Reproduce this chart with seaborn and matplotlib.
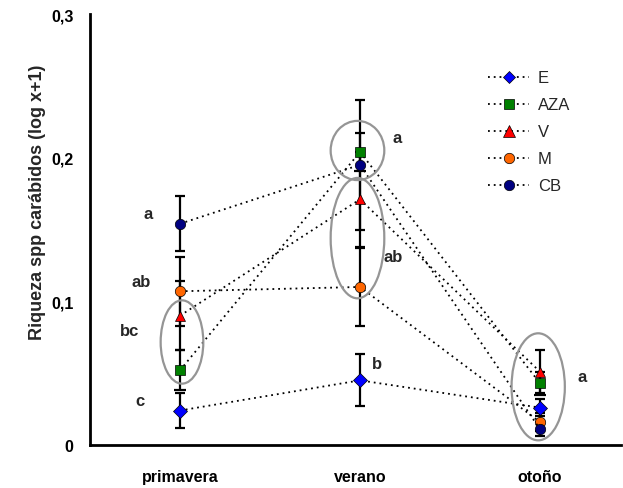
import numpy as np
import pandas as pd
import matplotlib
matplotlib.use("Agg")
import matplotlib.pyplot as plt
from matplotlib.patches import Ellipse
from matplotlib.lines import Line2D
import seaborn as sns

# ---- data ----
seasons = ["primavera", "verano", "otoño"]
series = ["E", "AZA", "V", "M", "CB"]
E_vals = [0.024, 0.045, 0.026]
AZA_vals = [0.052, 0.204, 0.043]
V_vals = [0.090, 0.171, 0.051]
M_vals = [0.107, 0.110, 0.016]
CB_vals = [0.154, 0.195, 0.011]
E_err = [0.012, 0.018, 0.006]
AZA_err = [0.014, 0.013, 0.008]
V_err = [0.024, 0.033, 0.015]
M_err = [0.024, 0.027, 0.006]
CB_err = [0.019, 0.045, 0.005]
yticks = [0, 0.1, 0.2, 0.3]
ytick_labels = ["0", "0,1", "0,2", "0,3"]
ylabel = "Riqueza spp carábidos (log x+1)"
letters_prim = ["a", "ab", "bc", "c"]
letters_ver = ["a", "ab", "b"]
letters_oto = ["a"]

vals = {"E": E_vals, "AZA": AZA_vals, "V": V_vals, "M": M_vals, "CB": CB_vals}
errs = {"E": E_err, "AZA": AZA_err, "V": V_err, "M": M_err, "CB": CB_err}

rows = []
for s in series:
    for i, season in enumerate(seasons):
        rows.append({"serie": s, "x": i, "y": vals[s][i], "err": errs[s][i]})
df = pd.DataFrame(rows)

colors = {"E": "#0000FF", "AZA": "#008000", "V": "#FF0000", "M": "#FF6600", "CB": "#000080"}
markers = {"E": "D", "AZA": "s", "V": "^", "M": "o", "CB": "o"}
msizes = {"E": 6.5, "AZA": 7.5, "V": 8, "M": 7.5, "CB": 7.5}

sns.set_style("white")
plt.rcParams["font.family"] = ["Liberation Sans", "DejaVu Sans"]

fig = plt.figure(figsize=(6.23, 4.89), dpi=100)
ax = fig.add_axes([90 / 623, (489 - 446) / 489, (621 - 90) / 623, (446 - 15) / 489])

# error bars
for s in series:
    d = df[df.serie == s]
    ax.errorbar(d["x"], d["y"], yerr=d["err"], fmt="none", ecolor="black",
                elinewidth=1.6, capsize=3.5, capthick=1.6, zorder=2)

sns.lineplot(data=df, x="x", y="y", hue="serie", style="serie", hue_order=series,
             style_order=series, palette=colors, markers=markers,
             dashes={s: (1, 2.2) for s in series}, estimator=None, sort=False,
             linewidth=1.3, markersize=7.5, markeredgecolor="black",
             markeredgewidth=0.5, ax=ax, legend=False, zorder=3)

for line in ax.lines:
    c = line.get_color()
    line.set_markerfacecolor(c)
    line.set_color("black")
    line.set_zorder(3)
for line, s in zip(ax.lines, series):
    line.set_markersize(msizes[s])

# ellipses
ell_style = dict(fill=False, edgecolor="#959595", linewidth=1.6, zorder=4)
ax.add_patch(Ellipse((0.011, 0.0717), 0.237, 0.058, **ell_style))
ax.add_patch(Ellipse((0.986, 0.205), 0.298, 0.0412, **ell_style))
ax.add_patch(Ellipse((0.986, 0.144), 0.298, 0.0838, **ell_style))
ax.add_patch(Ellipse((1.99, 0.0405), 0.296, 0.0745, **ell_style))

# significance letters
lt = dict(fontsize=12, fontweight="bold", ha="center", va="center")
for (xx, yy), t in zip([(-0.176, 0.161), (-0.218, 0.114), (-0.278, 0.080), (-0.222, 0.031)], letters_prim):
    ax.text(xx, yy, t, **lt)
for (xx, yy), t in zip([(1.207, 0.214), (1.182, 0.131), (1.093, 0.057)], letters_ver):
    ax.text(xx, yy, t, **lt)
for (xx, yy), t in zip([(2.232, 0.048)], letters_oto):
    ax.text(xx, yy, t, **lt)

ax.set_xlim(-0.5, 2.45)
ax.set_ylim(0, 0.3)
ax.set_xticks(range(len(seasons)))
ax.set_xticklabels(seasons, fontsize=11.5, fontweight="bold")
ax.set_yticks(yticks)
ax.set_yticklabels(ytick_labels, fontsize=11.5, fontweight="bold")
ax.tick_params(axis="both", length=0, labelcolor="black")
ax.tick_params(axis="x", pad=17)
ax.tick_params(axis="y", pad=12)
ax.set_xlabel("")
ax.set_ylabel("")
fig.text(38 / 623, 1 - 202 / 489, ylabel, rotation=90, fontsize=13,
         fontweight="bold", ha="center", va="center")

for sp in ["top", "right"]:
    ax.spines[sp].set_visible(False)
for sp in ["left", "bottom"]:
    ax.spines[sp].set_linewidth(2)
    ax.spines[sp].set_color("black")

# legend
handles = [Line2D([], [], color="black", linestyle=(0, (1, 2.2)), linewidth=1.3,
                  marker=markers[s], markersize=msizes[s], markerfacecolor=colors[s],
                  markeredgecolor="black", markeredgewidth=0.5) for s in series]
ax.legend(handles=handles, labels=series, loc="upper left",
          bbox_to_anchor=(0.749, 0.869), frameon=False, fontsize=12,
          handlelength=2.5, handletextpad=0.5, labelspacing=0.72,
          borderpad=0, borderaxespad=0)

fig.savefig("out.png", dpi=100)
